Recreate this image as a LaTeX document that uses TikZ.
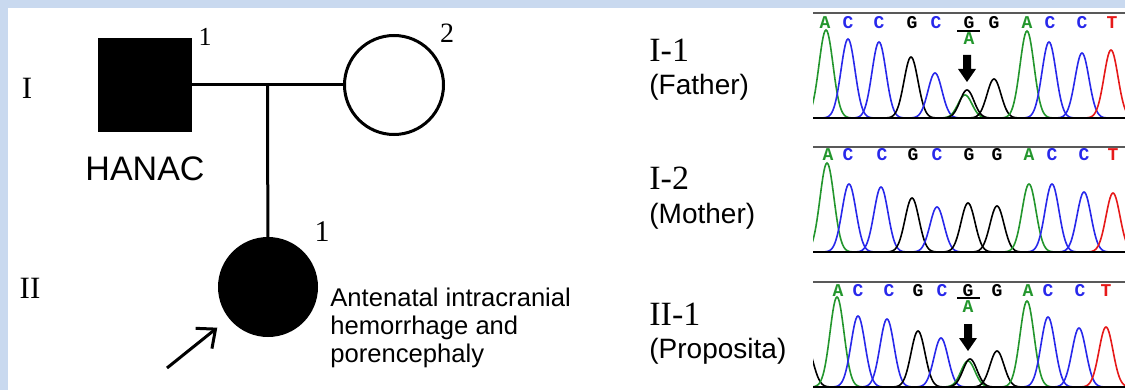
\documentclass[tikz,border=0pt]{standalone}
\usepackage{fontspec}
\setmainfont{Liberation Serif}
\newfontfamily\arialf{Liberation Sans}
\newfontfamily\seqf{Liberation Mono}
\usetikzlibrary{arrows.meta,positioning}
\definecolor{frame}{RGB}{201,217,239}
\definecolor{baseA}{RGB}{35,150,45}
\definecolor{baseC}{RGB}{40,40,235}
\definecolor{baseG}{RGB}{0,0,0}
\definecolor{baseT}{RGB}{230,25,25}
\tikzset{
  indiv/.style={draw=black, line width=1.5pt, inner sep=0pt},
  male/.style={indiv, rectangle, minimum size=45.5pt},
  female/.style={indiv, circle, minimum size=#1},
  link/.style={line width=1.5pt},
  gen/.style={font=\fontsize{15.5}{18}\selectfont, inner sep=0pt},
  num/.style={font=\fontsize{#1}{#1}\selectfont, inner sep=0pt},
  who/.style={font=\fontsize{17}{20}\selectfont, anchor=base west, inner sep=0pt},
  rel/.style={font=\arialf\fontsize{14}{17}\selectfont, anchor=base west, inner sep=0pt},
  note/.style={font=\arialf\fontsize{12.8}{13.8}\selectfont, align=left, inner sep=0pt},
  call/.style={font=\seqf\bfseries\fontsize{9}{9}\selectfont, text=base#1, inner sep=0pt},
  trace/.style={line width=0.8pt, color=base#1},
  rule/.style={line width=0.6pt, black!65},
  axis/.style={line width=1.2pt, black},
}
\newcommand{\chrompeak}[4]{% baseline, x, top, base letter
  \pgfmathsetmacro\pa{#2-26}\pgfmathsetmacro\pb{#2+26}
  \draw[trace=#4] plot[domain=\pa:\pb, samples=53] (\x, {#1-(#1-#3)*exp(-((\x-#2)*(\x-#2))/98)});}
\newcommand{\mutarrow}[2]{%
  \fill (#1-4,#2) -- (#1+4,#2) -- (#1+4,#2+14) -- (#1+9,#2+14) -- (#1,#2+27) -- (#1-9,#2+14) -- (#1-4,#2+14) -- cycle;}

\begin{document}
\begin{tikzpicture}[x=0.5pt, y=-0.5pt]
  \useasboundingbox (0,0) rectangle (1125,390);
  \fill[frame] (0,0) rectangle (1125,390);
  \fill[white] (8,8) rectangle (1125,390);

  \node[male, fill=black] (fa) at (145,85) {};
  \node[female=49.5pt, fill=white] (mo) at (394,85) {};
  \node[female=48.5pt, fill=black] (pr) at (268,287) {};
  \draw[link] (fa) -- coordinate[pos=0.5] (m) (mo);
  \draw[link] (m) -- (pr);
  \coordinate (pt) at (167,368);
  \draw[link, -{Straight Barb[length=7.5pt, width=13pt]}, shorten >=7.5pt] (pt) -- (pr);
  \node[num=13] (n1) at (205,37) {1};
  \node[num=14] (n2) at (447,33) {2};
  \node[num=15] (n3) at (322,232) {1};
  \node[gen] (g1) at (27,88) {I};
  \node[gen] (g2) at (30,288) {II};
  \node[font=\arialf\fontsize{17}{20}\selectfont, inner sep=0pt, below=12pt of fa] (hanac) {HANAC};
  \node[note, anchor=north west] (dx) at (330,288) {Antenatal intracranial\\hemorrhage and\\porencephaly};

  \foreach \n/\r/\t/\yb in {1/I-1/(Father)/62, 2/I-2/(Mother)/190, 3/II-1/(Proposita)/325} {
    \node[who] (who\n) at (649,\yb) {\r};
    \node[rel] (rel\n) at (649,\yb+33) {\t};
  }

  \foreach \yt in {13, 147, 282} {
    \draw[rule] (813,\yt) -- (1125,\yt);
  }
  \begin{scope}
    \clip (813,0) rectangle (1125,390);
    \foreach \px/\py/\nb in {826/30/A, 848/39/C, 879/42/C, 911/57/G, 935/73/C, 965/95/A, 967/90/G, 994/79/G, 1027/31/A, 1049/42/C, 1082/53/C, 1111/50/T}
      {\chrompeak{118}{\px}{\py}{\nb}}
    \foreach \px/\py/\nb in {827/163/A, 849/184/C, 881/187/C, 912/198/G, 937/207/C, 968/203/G, 997/206/G, 1029/184/A, 1052/184/C, 1084/192/C, 1113/193/T}
      {\chrompeak{252}{\px}{\py}{\nb}}
    \foreach \px/\py/\nb in {806/345/G, 837/297/A, 858/316/C, 887/319/C, 918/331/G, 941/338/C, 968/361/A, 970/359/G, 997/351/G, 1027/301/A, 1048/317/C, 1079/328/C, 1106/327/T}
      {\chrompeak{387}{\px}{\py}{\nb}}
  \end{scope}
  \foreach \yb in {118, 252, 387} {
    \draw[axis] (813,\yb) -- (1125,\yb);
  }

  \foreach \lx/\nb in {825/A, 848/C, 879/C, 912/G, 936/C, 969/G, 994/G, 1027/A, 1050/C, 1082/C, 1112/T}
    \node[call=\nb] (a\lx) at (\lx,23) {\nb};
  \foreach \lx/\nb in {828/A, 848/C, 882/C, 913/G, 937/C, 969/G, 997/G, 1029/A, 1052/C, 1084/C, 1113/T}
    \node[call=\nb] (b\lx) at (\lx,155) {\nb};
  \foreach \lx/\nb in {838/A, 858/C, 889/C, 918/G, 942/C, 968/G, 997/G, 1028/A, 1048/C, 1080/C, 1106/T}
    \node[call=\nb] (c\lx) at (\lx,291) {\nb};

  \draw[line width=0.7pt] (957,31) -- (980,31);
  \node[call=A] (a969m) at (969,39) {A};
  \draw[line width=0.7pt] (957,298) -- (980,298);
  \node[call=A] (c968m) at (968,307) {A};
  \mutarrow{967}{55}
  \mutarrow{968}{324}
\end{tikzpicture}
\end{document}
